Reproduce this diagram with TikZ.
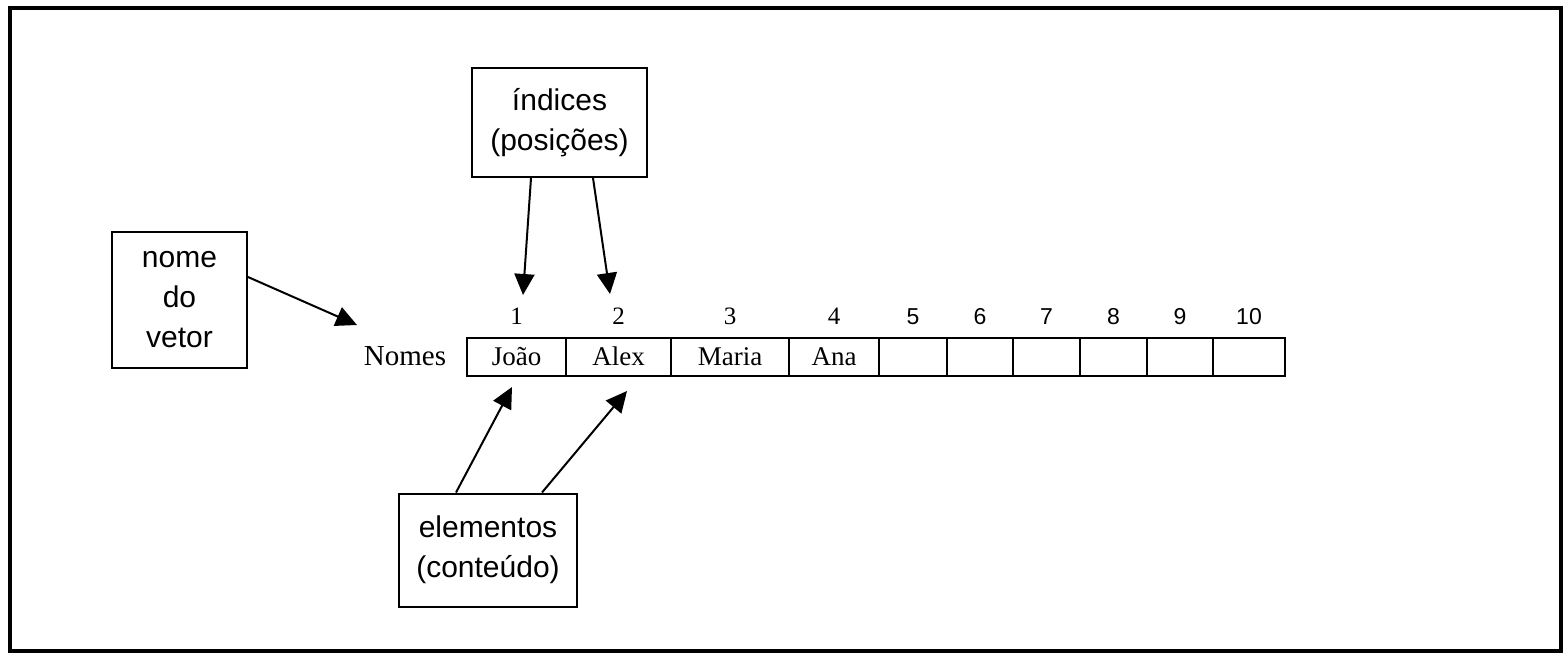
\documentclass[tikz,border=0pt]{standalone}
\usepackage{fontspec}
\setmainfont{Liberation Serif}
\setsansfont{Liberation Sans}
\usetikzlibrary{arrows.meta}
\begin{document}
\begin{tikzpicture}[x=1pt,y=-1pt,
  lbl/.style={draw, line width=2pt, align=center, inner sep=0pt,
              font=\sffamily\fontsize{30}{40}\selectfont},
  cell/.style={draw, line width=2pt, inner sep=0pt, minimum height=38pt},
  celltext/.style={anchor=base, inner sep=0pt, font=\fontsize{27}{30}\selectfont},
  idx/.style={anchor=base, inner sep=0pt, font=\fontsize{25}{28}\selectfont},
  idxs/.style={idx, font=\sffamily\fontsize{23}{28}\selectfont},
  ptr/.style={line width=2pt, -{Triangle[length=21pt,width=20pt]}},
]
\useasboundingbox (0,0) rectangle (1565,654);
% outer frame
\draw[line width=4pt] (10,8) rectangle (1561,651);

% the array cells and their contents
\foreach \i/\l/\r/\t in {1/467/566/João, 2/566/671/Alex, 3/671/789/Maria,
    4/789/879/Ana, 5/879/947/, 6/947/1013/, 7/1013/1080/, 8/1080/1147/,
    9/1147/1213/, 10/1213/1285/}
{
  \node[cell, minimum width={\r-\l}] (c\i) at ({(\l+\r)/2},357) {};
  \node[celltext] (v\i) at (c\i.center |- 0,365) {\t};
}

% indices above the cells
\foreach \i in {1,...,4}
  \node[idx] (n\i) at ([yshift=13pt]c\i.north) {\i};
\foreach \i in {5,...,10}
  \node[idxs] (n\i) at ([yshift=13pt]c\i.north) {\i};

% array name
\node[anchor=base, inner sep=0pt, font=\fontsize{29}{32}\selectfont] (nm) at (405,365) {Nomes};

% explanation boxes
\node[lbl, minimum width=135pt, minimum height=136pt] (nome) at (179.5,300) {nome\\do\\vetor};
\node[lbl, minimum width=175pt, minimum height=109pt] (ind) at (559.5,122.5) {índices\\(posições)};
\node[lbl, minimum width=178pt, minimum height=113pt] (ele) at (488,550) {elementos\\(conteúdo)};

% pointers
\coordinate (tn) at (357,325);
\coordinate (t1) at (523,295);
\coordinate (t2) at (610,294);
\coordinate (t3) at (512,387);
\coordinate (t4) at (627,391);
\draw[ptr] ([yshift=23pt]nome.east) -- (tn);
\draw[ptr] ([xshift=-28.5pt]ind.south) -- (t1);
\draw[ptr] ([xshift=33.5pt]ind.south) -- (t2);
\draw[ptr] ([xshift=-32pt]ele.north) -- (t3);
\draw[ptr] ([xshift=54pt]ele.north) -- (t4);
\end{tikzpicture}
\end{document}
